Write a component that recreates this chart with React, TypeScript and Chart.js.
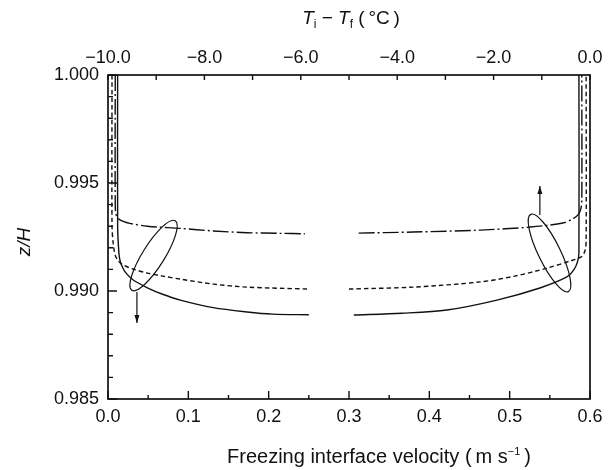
import React, { useEffect, useRef } from 'react';
import { Chart, registerables } from 'chart.js';

Chart.register(...registerables);

const FONT = '"Liberation Sans", Arial, Helvetica, sans-serif';
const INK = '#111111';

// ---- tick values ----
const velTicks = [0, 0.1, 0.2, 0.3, 0.4, 0.5, 0.6];
const velMinorTicks = [0.05, 0.15, 0.25, 0.35, 0.45, 0.55];
const tempTicks = [-10, -8, -6, -4, -2, 0];
const tempMinorTicks = [-9, -7, -5, -3, -1];
const zTicks = [0.985, 0.99, 0.995, 1.0];
const zMinorTicks = [0.986, 0.987, 0.988, 0.989, 0.991, 0.992, 0.993, 0.994, 0.996, 0.997, 0.998, 0.999];

// ---- left group: z/H vs freezing interface velocity (bottom axis) ----
const velSolidX = [0.012, 0.012, 0.0135, 0.015, 0.018, 0.022, 0.031, 0.049, 0.068, 0.09, 0.131, 0.173, 0.205, 0.25];
const velSolidZ = [1.0, 0.993, 0.9918, 0.9914, 0.9911, 0.99085, 0.99052, 0.99015, 0.98985, 0.98958, 0.98923, 0.98903, 0.98893, 0.9889];

const velDashX = [0.005, 0.005, 0.0065, 0.009, 0.013, 0.019, 0.031, 0.049, 0.068, 0.09, 0.131, 0.173, 0.25];
const velDashZ = [1.0, 0.993, 0.9922, 0.99165, 0.99138, 0.9912, 0.99102, 0.99083, 0.99069, 0.99055, 0.99032, 0.99018, 0.99009];

const velDashDotX = [0.009, 0.009, 0.01, 0.013, 0.019, 0.027, 0.049, 0.09, 0.131, 0.173, 0.214, 0.245];
const velDashDotZ = [1.0, 0.994, 0.99355, 0.99335, 0.99322, 0.99313, 0.993, 0.9929, 0.99278, 0.9927, 0.99267, 0.99265];

// ---- right group: z/H vs Ti - Tf (top axis) ----
const tempSolidX = [-4.9, -3.9, -2.97, -1.93, -1.04, -0.48, -0.33, -0.26, -0.23, -0.23];
const tempSolidZ = [0.98889, 0.98897, 0.98912, 0.98958, 0.99014, 0.99065, 0.991, 0.99135, 0.99176, 1.0];

const tempDashX = [-5.0, -3.67, -2.28, -1.56, -0.89, -0.4, -0.17, -0.1, -0.08, -0.08];
const tempDashZ = [0.99009, 0.99018, 0.99042, 0.99069, 0.99106, 0.9914, 0.9916, 0.9919, 0.99236, 1.0];

const tempDashDotX = [-4.8, -3.67, -2.28, -1.24, -0.56, -0.35, -0.24, -0.19, -0.17, -0.17];
const tempDashDotZ = [0.99268, 0.99273, 0.99282, 0.99296, 0.99315, 0.99335, 0.99355, 0.9938, 0.9942, 1.0];

// ---- annotations (data coordinates) ----
const leftEllipse = { v: 0.0567, z: 0.99164, rx: 41, ry: 11, rot: -58 };
const rightEllipse = { t: -0.84, z: 0.99176, rx: 43, ry: 11, rot: 64 };
const leftArrow = { v: 0.036, z0: 0.98995, z1: 0.98852 };
const rightArrow = { t: -1.04, z0: 0.99352, z1: 0.99486 };

const pts = (xs: number[], zs: number[]) => xs.map((x, i) => ({ x, y: zs[i] }));

type Part = { text: string; size: number; italic?: boolean; dy?: number };

function drawRich(ctx: CanvasRenderingContext2D, parts: Part[], cx: number, baseline: number) {
  let total = 0;
  const widths: number[] = [];
  parts.forEach((p) => {
    ctx.font = `${p.italic ? 'italic ' : ''}${p.size}px ${FONT}`;
    const w = ctx.measureText(p.text).width;
    widths.push(w);
    total += w;
  });
  let x = cx - total / 2;
  ctx.textBaseline = 'alphabetic';
  ctx.textAlign = 'left';
  parts.forEach((p, i) => {
    ctx.font = `${p.italic ? 'italic ' : ''}${p.size}px ${FONT}`;
    ctx.fillText(p.text, x, baseline + (p.dy || 0));
    x += widths[i];
  });
}

function drawArrow(ctx: CanvasRenderingContext2D, x: number, y0: number, y1: number) {
  ctx.beginPath();
  ctx.moveTo(x, y0);
  ctx.lineTo(x, y1);
  ctx.stroke();
  const dir = Math.sign(y1 - y0);
  ctx.beginPath();
  ctx.moveTo(x, y1);
  ctx.lineTo(x - 2.5, y1 - dir * 8);
  ctx.lineTo(x + 2.5, y1 - dir * 8);
  ctx.closePath();
  ctx.fill();
}

const decor = {
  id: 'decor',
  afterDatasetsDraw(chart: any) {
    const { ctx, chartArea: a, scales } = chart;
    const xs = scales.x;
    const ts = scales.xt;
    const ys = scales.y;
    ctx.save();
    ctx.strokeStyle = INK;
    ctx.fillStyle = INK;
    // frame
    ctx.lineWidth = 1.7;
    ctx.strokeRect(a.left, a.top, a.right - a.left, a.bottom - a.top);
    // ticks
    ctx.lineWidth = 1.4;
    ctx.beginPath();
    velTicks.forEach((v) => {
      const p = xs.getPixelForValue(v);
      ctx.moveTo(p, a.bottom);
      ctx.lineTo(p, a.bottom - 8);
    });
    velMinorTicks.forEach((v) => {
      const p = xs.getPixelForValue(v);
      ctx.moveTo(p, a.bottom);
      ctx.lineTo(p, a.bottom - 4);
    });
    [...tempTicks, ...tempMinorTicks].forEach((v) => {
      const p = ts.getPixelForValue(v);
      ctx.moveTo(p, a.top);
      ctx.lineTo(p, a.top + 5);
    });
    zTicks.forEach((v) => {
      const p = ys.getPixelForValue(v);
      ctx.moveTo(a.left, p);
      ctx.lineTo(a.left + 9, p);
    });
    zMinorTicks.forEach((v) => {
      const p = ys.getPixelForValue(v);
      ctx.moveTo(a.left, p);
      ctx.lineTo(a.left + 5, p);
    });
    ctx.stroke();

    // ellipses
    ctx.lineWidth = 1.2;
    ctx.beginPath();
    ctx.ellipse(
      xs.getPixelForValue(leftEllipse.v),
      ys.getPixelForValue(leftEllipse.z),
      leftEllipse.rx,
      leftEllipse.ry,
      (leftEllipse.rot * Math.PI) / 180,
      0,
      Math.PI * 2
    );
    ctx.stroke();
    ctx.beginPath();
    ctx.ellipse(
      ts.getPixelForValue(rightEllipse.t),
      ys.getPixelForValue(rightEllipse.z),
      rightEllipse.rx,
      rightEllipse.ry,
      (rightEllipse.rot * Math.PI) / 180,
      0,
      Math.PI * 2
    );
    ctx.stroke();

    // arrows
    drawArrow(ctx, xs.getPixelForValue(leftArrow.v), ys.getPixelForValue(leftArrow.z0), ys.getPixelForValue(leftArrow.z1));
    drawArrow(ctx, ts.getPixelForValue(rightArrow.t), ys.getPixelForValue(rightArrow.z0), ys.getPixelForValue(rightArrow.z1));

    // axis titles
    const cx = (a.left + a.right) / 2;
    drawRich(
      ctx,
      [
        { text: 'T', size: 19, italic: true },
        { text: 'i', size: 12, dy: 4 },
        { text: ' \u2212 ', size: 19 },
        { text: 'T', size: 19, italic: true },
        { text: 'f', size: 12, dy: 4 },
        { text: ' (\u2009\u00B0C\u2009)', size: 19 },
      ],
      cx + 2,
      24
    );
    drawRich(
      ctx,
      [
        { text: 'Freezing interface velocity (\u2009m s', size: 20 },
        { text: '\u22121', size: 11, dy: -8 },
        { text: '\u2009)', size: 20 },
      ],
      cx + 30,
      463
    );
    ctx.save();
    ctx.translate(25, (a.top + a.bottom) / 2 + 5);
    ctx.rotate(-Math.PI / 2);
    ctx.font = `italic 19px ${FONT}`;
    ctx.textAlign = 'center';
    ctx.textBaseline = 'middle';
    ctx.fillText('z/H', 0, 0);
    ctx.restore();

    ctx.restore();
  },
};

const tickFont = { family: FONT, size: 18 };

export default function App() {
  const ref = useRef<HTMLCanvasElement | null>(null);
  useEffect(() => {
    if (!ref.current) return;
    const common = { showLine: true, pointRadius: 0, borderColor: INK, borderWidth: 1.4, fill: false, tension: 0.3, yAxisID: 'y' };
    const chart = new Chart(ref.current, {
      type: 'scatter',
      data: {
        datasets: [
          { ...common, data: pts(velSolidX, velSolidZ), xAxisID: 'x', borderDash: [] },
          { ...common, data: pts(velDashX, velDashZ), xAxisID: 'x', borderDash: [4.5, 3] },
          { ...common, data: pts(velDashDotX, velDashDotZ), xAxisID: 'x', borderDash: [16, 3, 2, 3] },
          { ...common, data: pts(tempSolidX, tempSolidZ), xAxisID: 'xt', borderDash: [] },
          { ...common, data: pts(tempDashX, tempDashZ), xAxisID: 'xt', borderDash: [4.5, 3] },
          { ...common, data: pts(tempDashDotX, tempDashDotZ), xAxisID: 'xt', borderDash: [16, 3, 2, 3] },
        ] as any,
      },
      options: {
        animation: false,
        responsive: true,
        maintainAspectRatio: false,
        devicePixelRatio: 1,
        events: [],
        layout: { padding: { left: 0, right: 26, top: 0, bottom: 0 } },
        plugins: { legend: { display: false }, tooltip: { enabled: false }, title: { display: false } },
        scales: {
          x: {
            type: 'linear',
            position: 'bottom',
            min: 0,
            max: 0.6,
            afterBuildTicks: (s: any) => {
              s.ticks = velTicks.map((v) => ({ value: v }));
            },
            ticks: {
              callback: (v: any) => Number(v).toFixed(1),
              font: tickFont,
              color: INK,
              padding: 7,
              maxRotation: 0,
              autoSkip: false,
            },
            grid: { display: false, drawTicks: false },
            border: { display: false },
            afterFit: (s: any) => {
              s.height = 71;
            },
          },
          xt: {
            type: 'linear',
            position: 'top',
            min: -10,
            max: 0,
            afterBuildTicks: (s: any) => {
              s.ticks = tempTicks.map((v) => ({ value: v }));
            },
            ticks: {
              callback: (v: any) => (Number(v) === 0 ? '0.0' : '\u2212' + Math.abs(Number(v)).toFixed(1)),
              font: tickFont,
              color: INK,
              padding: 6,
              maxRotation: 0,
              autoSkip: false,
            },
            grid: { display: false, drawTicks: false },
            border: { display: false },
            afterFit: (s: any) => {
              s.height = 75;
            },
          },
          y: {
            type: 'linear',
            position: 'left',
            min: 0.985,
            max: 1.0,
            afterBuildTicks: (s: any) => {
              s.ticks = zTicks.map((v) => ({ value: v }));
            },
            ticks: {
              callback: (v: any) => Number(v).toFixed(3),
              font: tickFont,
              color: INK,
              padding: 9,
              autoSkip: false,
            },
            grid: { display: false, drawTicks: false },
            border: { display: false },
            afterFit: (s: any) => {
              s.width = 108;
            },
          },
        },
      } as any,
      plugins: [decor],
    });
    return () => chart.destroy();
  }, []);
  return (
    <div style={{ position: 'absolute', left: 0, top: 0, width: 616, height: 470, background: '#fff' }}>
      <canvas ref={ref} />
    </div>
  );
}
